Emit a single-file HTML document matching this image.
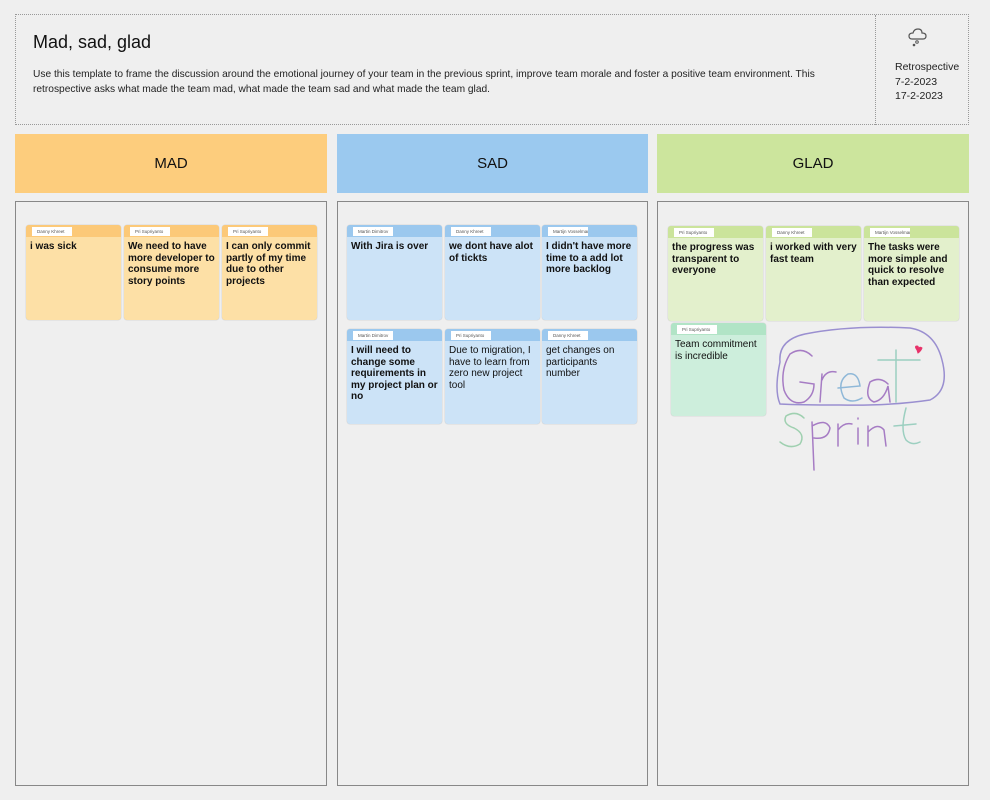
<!DOCTYPE html>
<html><head><meta charset="utf-8"><style>
body{margin:0;width:990px;height:800px;background:#efefef;font-family:"Liberation Sans",sans-serif;position:relative;overflow:hidden}
.a{position:absolute;box-sizing:border-box}
.hdr{left:15px;top:14px;width:954px;height:111px;border:1px dotted #999}
.col{top:134px;height:59px;font-size:15px;display:flex;align-items:center;justify-content:center;color:#111}
.body{top:201px;height:585px;border:1px solid #888}
.card{width:95px;height:95px;border-radius:3px;box-shadow:0 0 1px rgba(0,0,0,.3);overflow:hidden}
.card .s{height:12px}
.card .n{position:absolute;left:6px;top:2px;width:40px;height:9px;background:#fff;font-size:4.5px;color:#555;line-height:9px;padding-left:5px;box-sizing:border-box;white-space:nowrap;overflow:hidden}
.card .t{padding:4px 3px 0 4px;font-size:10px;line-height:11.5px;font-weight:bold;color:#111}
.card .t.r{font-weight:normal}
.m{background:#fde0a6}.m .s{background:#fcc978}
.sd{background:#cce3f7}.sd .s{background:#9bc8ee}
.g{background:#e3f0cc}.g .s{background:#cbe49b}
.tc{background:#cdeedc}.tc .s{background:#b1e4c6}
</style></head><body>
<div class="a hdr"></div>
<div class="a" style="left:875px;top:15px;width:1px;height:110px;border-left:1px dotted #999"></div>
<div class="a" style="left:33px;top:32px;font-size:18px;color:#111">Mad, sad, glad</div>
<div class="a" style="left:33px;top:67px;width:830px;font-size:10.2px;line-height:15px;color:#222">Use this template to frame the discussion around the emotional journey of your team in the previous sprint, improve team morale and foster a positive team environment. This retrospective asks what made the team mad, what made the team sad and what made the team glad.</div>
<svg class="a" style="left:906px;top:27px" width="24" height="22" viewBox="0 0 24 22"><path d="M6 12 Q3 12 3 9 Q3 6 7 6 Q8 2 12 2 Q16 2 16 6 Q20 6 20 9 Q20 12 17 12 Z" fill="none" stroke="#555" stroke-width="1.2"/><circle cx="8" cy="18" r="1.3" fill="#555"/><circle cx="11" cy="15" r="1.3" fill="none" stroke="#555"/></svg>
<div class="a" style="left:895px;top:60px;font-size:10.5px;line-height:14.5px;color:#222">Retrospective<br>7-2-2023<br>17-2-2023</div>

<div class="a col" style="left:15px;width:312px;background:#fdcd7d">MAD</div>
<div class="a col" style="left:337px;width:311px;background:#9bc9ef">SAD</div>
<div class="a col" style="left:657px;width:312px;background:#cce59d">GLAD</div>
<div class="a body" style="left:15px;width:312px"></div>
<div class="a body" style="left:337px;width:311px"></div>
<div class="a body" style="left:657px;width:312px"></div>

<div class="a card m" style="left:26px;top:225px"><div class="s"></div><div class="n">Danny Khreet</div><div class="t">i was sick</div></div>
<div class="a card m" style="left:124px;top:225px"><div class="s"></div><div class="n">Pri Supriyanto</div><div class="t">We need to have more developer to consume more story points</div></div>
<div class="a card m" style="left:222px;top:225px"><div class="s"></div><div class="n">Pri Supriyanto</div><div class="t">I can only commit partly of my time due to other projects</div></div>

<div class="a card sd" style="left:347px;top:225px"><div class="s"></div><div class="n">Martin Dimitrov</div><div class="t">With Jira is over</div></div>
<div class="a card sd" style="left:445px;top:225px"><div class="s"></div><div class="n">Danny Khreet</div><div class="t">we dont have alot of tickts</div></div>
<div class="a card sd" style="left:542px;top:225px"><div class="s"></div><div class="n">Martijn Vosselman</div><div class="t">I didn't have more time to a add lot more backlog</div></div>
<div class="a card sd" style="left:347px;top:329px"><div class="s"></div><div class="n">Martin Dimitrov</div><div class="t">I will need to change some requirements in my project plan or no</div></div>
<div class="a card sd" style="left:445px;top:329px"><div class="s"></div><div class="n">Pri Supriyanto</div><div class="t r">Due to migration, I have to learn from zero new project tool</div></div>
<div class="a card sd" style="left:542px;top:329px"><div class="s"></div><div class="n">Danny Khreet</div><div class="t r">get changes on<br>participants<br>number</div></div>

<div class="a card g" style="left:668px;top:226px"><div class="s"></div><div class="n">Pri Supriyanto</div><div class="t">the progress was transparent to everyone</div></div>
<div class="a card g" style="left:766px;top:226px"><div class="s"></div><div class="n">Danny Khreet</div><div class="t">i worked with very fast team</div></div>
<div class="a card g" style="left:864px;top:226px"><div class="s"></div><div class="n">Martijn Vosselman</div><div class="t">The tasks were more simple and quick to resolve than expected</div></div>
<div class="a card tc" style="left:671px;top:323px;height:93px"><div class="s"></div><div class="n">Pri Supriyanto</div><div class="t r">Team commitment is incredible</div></div>

<svg class="a" style="left:770px;top:320px" width="190" height="160" viewBox="0 0 190 160" fill="none" stroke="#a67cc4" stroke-width="1.5" stroke-linecap="round">
<path d="M10 42 Q8 20 35 14 Q80 5 140 8 Q165 12 172 40 Q180 70 160 80 Q120 86 70 85 Q30 85 10 84 Q4 70 10 42 Z" stroke="#9a8fd0"/>
<path d="M42 36 Q32 26 20 34 Q10 50 14 70 Q20 86 34 82 Q44 76 44 64 L30 62"/>
<path d="M50 82 L52 54 M52 60 Q56 50 66 52"/>
<path d="M68 68 L90 66 Q88 52 78 54 Q66 62 74 78 Q82 84 92 78" stroke="#8fb8d8"/>
<path d="M118 64 Q110 56 100 62 Q94 78 104 82 Q114 80 118 66 L120 82"/>
<path d="M126 30 L126 82 M108 40 L150 40" stroke="#9ccfc0"/>
<path d="M34 98 Q26 90 16 96 Q12 104 24 108 Q36 114 30 124 Q20 130 10 122" stroke="#9fd0b0"/>
<path d="M42 102 L44 150 M42 106 Q56 98 60 108 Q58 120 44 118"/>
<path d="M68 126 L68 104 M68 110 Q74 102 82 104"/>
<path d="M88 108 L88 124 M88 98 L88 99"/>
<path d="M98 126 L98 106 M98 112 Q108 102 114 110 L116 126"/>
<path d="M136 88 Q130 110 136 120 Q142 126 150 122 M124 106 L146 104" stroke="#9ccfc0"/>
<path d="M147 30 Q144 26 147 26 Q149 26 148 29 Q150 26 152 28 Q151 31 148 33 Z" fill="#e8336a" stroke="#e8336a" stroke-width="1"/>
</svg>
</body></html>
